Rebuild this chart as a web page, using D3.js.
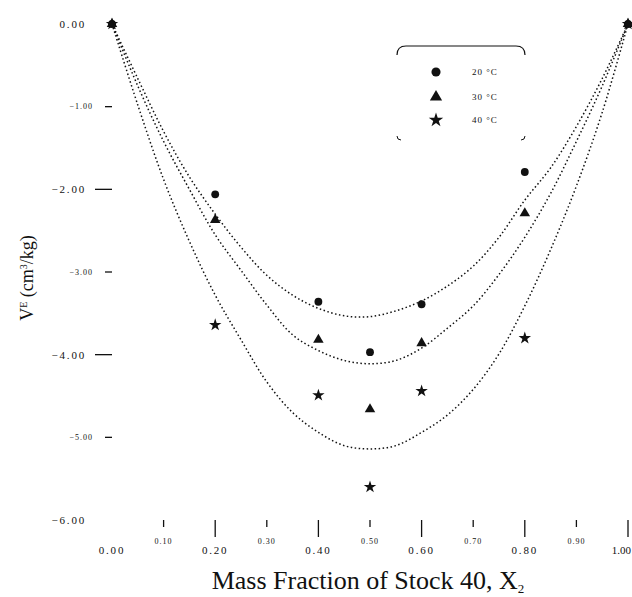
<!DOCTYPE html>
<html>
<head>
<meta charset="utf-8">
<script src="https://cdn.jsdelivr.net/npm/d3@7"></script>
<style>
  body { margin: 0; background: #fff; }
  text { font-family: "Liberation Serif", "Times New Roman", serif; fill: #111; }
</style>
</head>
<body>
<div class="chartDiv"></div>
<script>
"use strict";

// Data
var seriesNames = ["20 \u00B0C", "30 \u00B0C", "40 \u00B0C"];
var seriesSymbols = [d3.symbolCircle, d3.symbolTriangle, d3.symbolStar];

// measured points
var pointX = [0.00, 0.20, 0.40, 0.50, 0.60, 0.80, 1.00];
var points20 = [0.00, -2.06, -3.36, -3.97, -3.39, -1.79, 0.00];
var points30 = [0.00, -2.37, -3.82, -4.66, -3.86, -2.29, 0.00];
var points40 = [0.00, -3.64, -4.49, -5.60, -4.44, -3.80, 0.00];

// fitted curves, read at steps of 0.05
var curveX = [0.00, 0.05, 0.10, 0.15, 0.20, 0.25, 0.30, 0.35, 0.40, 0.45, 0.50,
              0.55, 0.60, 0.65, 0.70, 0.75, 0.80, 0.85, 0.90, 0.95, 1.00];
var fit20 = [0, -0.66, -1.30, -1.85, -2.30, -2.70, -3.04, -3.28, -3.44, -3.53, -3.54,
             -3.47, -3.35, -3.17, -2.93, -2.58, -2.13, -1.74, -1.24, -0.66, 0];
var fit30 = [0, -0.75, -1.42, -2.00, -2.55, -2.98, -3.40, -3.76, -3.95, -4.07, -4.11,
             -4.07, -3.92, -3.68, -3.41, -3.03, -2.58, -2.05, -1.42, -0.75, 0];
var fit40 = [0, -0.98, -1.88, -2.63, -3.28, -3.82, -4.33, -4.70, -4.94, -5.10, -5.14,
             -5.10, -4.94, -4.73, -4.42, -3.99, -3.41, -2.73, -1.96, -1.07, 0];

// ticks
var yTicks = [0, -1, -2, -3, -4, -5, -6];
var xTicks = [0.0, 0.1, 0.2, 0.3, 0.4, 0.5, 0.6, 0.7, 0.8, 0.9, 1.0];

var width = 632, height = 597;

var svg = d3.select(".chartDiv").append("svg")
    .attr("width", width)
    .attr("height", height);

var x = d3.scaleLinear().domain([0, 1]).range([112, 628]);
var y = d3.scaleLinear().domain([-6, 0]).range([520, 24]);

var isMajorY = function(v) { return Math.round(v) % 2 === 0; };
var isMajorX = function(v) { return Math.round(v * 10) % 2 === 0; };

// y axis (no axis line in the picture)
var yAxis = svg.append("g").attr("class", "yAxis");
yTicks.forEach(function(v)
{
    var major = isMajorY(v);
    if (v !== 0 && v !== -6)
    {
        yAxis.append("line")
            .attr("x1", major ? 95 : 105).attr("x2", 112)
            .attr("y1", y(v)).attr("y2", y(v))
            .attr("stroke", "#111").attr("stroke-width", 1.3);
    }
    yAxis.append("text")
        .attr("x", major ? 86 : 93)
        .attr("y", y(v))
        .attr("dy", "0.35em")
        .attr("text-anchor", "end")
        .style("font-size", major ? "11px" : "8px")
        .style("letter-spacing", major ? "1.8px" : "1px")
        .text(d3.format(".2f")(v));
});

// x axis
var xAxis = svg.append("g").attr("class", "xAxis");
xTicks.forEach(function(v)
{
    var major = isMajorX(v);
    if (v !== 0)
    {
        xAxis.append("line")
            .attr("x1", x(v)).attr("x2", x(v))
            .attr("y1", 520).attr("y2", major ? 537 : 527)
            .attr("stroke", "#111").attr("stroke-width", 1.3);
    }
    xAxis.append("text")
        .attr("x", v === 1 ? 631 : x(v))
        .attr("y", major ? 554 : 544)
        .attr("text-anchor", v === 1 ? "end" : "middle")
        .style("font-size", major ? "11px" : "8px")
        .style("letter-spacing", major ? (v === 1 ? "0px" : "1.8px") : "1px")
        .text(d3.format(".2f")(v));
});

// axis titles
var yTitle = svg.append("text")
    .attr("transform", "translate(33,278) rotate(-90)")
    .attr("text-anchor", "middle")
    .style("font-size", "18px");
yTitle.append("tspan").text("V");
yTitle.append("tspan").attr("dy", "-6").style("font-size", "10px").text("E");
yTitle.append("tspan").attr("dy", "6").text(" (cm");
yTitle.append("tspan").attr("dy", "-6").style("font-size", "10px").text("3");
yTitle.append("tspan").attr("dy", "6").text("/kg)");

var xTitle = svg.append("text")
    .attr("x", 368)
    .attr("y", 589)
    .attr("text-anchor", "middle")
    .style("font-size", "26px");
xTitle.append("tspan").text("Mass Fraction of Stock 40, X");
xTitle.append("tspan").attr("dy", "4").style("font-size", "13px").text("2");

// fitted curves
var fits = [fit20, fit30, fit40];
var line = d3.line()
    .x(function(d) { return x(d[0]); })
    .y(function(d) { return y(d[1]); })
    .curve(d3.curveCatmullRom);

svg.append("g").attr("class", "fits")
    .selectAll("path")
    .data(fits).enter()
    .append("path")
    .attr("d", function(f) { return line(curveX.map(function(cx, i) { return [cx, f[i]]; })); })
    .attr("fill", "none")
    .attr("stroke", "#111")
    .attr("stroke-width", 1.5)
    .attr("stroke-dasharray", "1.5,2.5");

// measured points
var allPoints = [points20, points30, points40];
allPoints.forEach(function(p, s)
{
    svg.append("g").attr("class", "series" + s)
        .selectAll("path")
        .data(pointX).enter()
        .append("path")
        .attr("transform", function(d, i) { return "translate(" + x(d) + "," + y(p[i]) + ")"; })
        .attr("d", d3.symbol().type(seriesSymbols[s]).size(48))
        .attr("fill", "#111");
});

// legend
var legend = svg.append("g").attr("class", "legend");
legend.append("path")
    .attr("d", "M397,55 Q397,46 406,46 L516,46 Q525,46 525,55")
    .attr("fill", "none").attr("stroke", "#111").attr("stroke-width", 1.2);
legend.append("path")
    .attr("d", "M397,136 Q397,140 401,140 M521,140 Q525,140 525,136")
    .attr("fill", "none").attr("stroke", "#111").attr("stroke-width", 1);

var legendY = [72, 97, 120];
seriesNames.forEach(function(name, s)
{
    legend.append("path")
        .attr("transform", "translate(436," + legendY[s] + ")")
        .attr("d", d3.symbol().type(seriesSymbols[s]).size(65))
        .attr("fill", "#111");
    legend.append("text")
        .attr("x", 472)
        .attr("y", legendY[s])
        .attr("dy", "0.35em")
        .style("font-size", "9px")
        .style("letter-spacing", "1px")
        .text(name);
});
</script>
</body>
</html>
